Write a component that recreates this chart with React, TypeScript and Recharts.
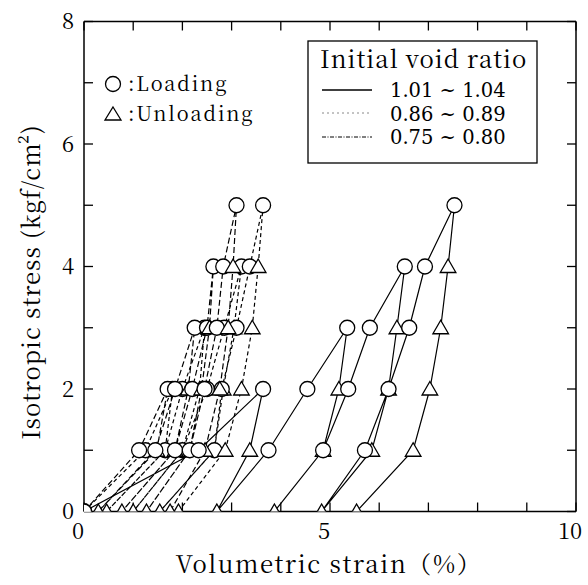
import React from 'react';
import { ComposedChart, Line, XAxis, YAxis } from 'recharts';

// Stress sequence (kgf/cm2) followed by every specimen: cyclic loading to 2, 3, 4, 5
const stressPath = [0, 1, 2, 1, 0, 1, 2, 3, 2, 1, 0, 1, 2, 3, 4, 3, 2, 1, 0, 1, 2, 3, 4, 5, 4, 3, 2, 1, 0];

// Volumetric strain (%) for each specimen
const strainSolid = [0, 2.33, 3.64, 3.37, 2.70, 3.75, 4.54, 5.35, 5.18, 4.86, 3.87, 4.86, 5.37, 5.81, 6.52, 6.36, 6.19, 5.85, 4.83, 5.71, 6.19, 6.61, 6.93, 7.53, 7.40, 7.25, 7.03, 6.69, 5.54];
const strainDotted = [0, 1.25, 1.80, 1.65, 0.46, 1.65, 2.00, 2.45, 2.35, 2.00, 1.00, 2.00, 2.50, 2.85, 3.20, 3.05, 2.83, 2.65, 1.54, 2.65, 2.80, 3.10, 3.37, 3.64, 3.54, 3.42, 3.20, 2.87, 1.92];
const strainDashDot = [0, 1.12, 1.70, 1.48, 0.29, 1.45, 1.85, 2.25, 2.12, 1.85, 0.77, 1.85, 2.20, 2.50, 2.63, 2.55, 2.39, 2.15, 1.27, 2.15, 2.45, 2.70, 2.83, 3.10, 3.03, 2.93, 2.76, 2.46, 1.75];

const xTicks = [0, 1, 2, 3, 4, 5, 6, 7, 8, 9, 10];
const xTickLabels = ['0', '', '', '', '', '5', '', '', '', '', '10'];
const yTicks = [0, 1, 2, 3, 4, 5, 6, 7, 8];
const yTickLabels = ['0', '', '2', '', '4', '', '6', '', '8'];

const legendRatios = ['1.01 ~ 1.04', '0.86 ~ 0.89', '0.75 ~ 0.80'];

const FONT = 'Noto Serif CJK JP, DejaVu Serif, serif';
const FONT2 = 'DejaVu Serif, serif';

type Pt = { x: number; y: number; m: 'load' | 'unload' };

function build(strain: number[]): Pt[] {
  return strain.map((x, i) => ({
    x,
    y: stressPath[i],
    m: i === 0 || stressPath[i] > stressPath[i - 1] ? 'load' : 'unload',
  }));
}

const dataSolid = build(strainSolid);
const dataDotted = build(strainDotted);
const dataDashDot = build(strainDashDot);

const Marker = (props: any) => {
  const { cx, cy, payload, index } = props;
  if (cx == null || cy == null) return <g key={index} />;
  if (payload.m === 'load') {
    return <circle key={index} cx={cx} cy={cy} r={7.5} fill="#fff" stroke="#000" strokeWidth={1.3} />;
  }
  return (
    <path
      key={index}
      d={`M${cx},${cy - 7.5} L${cx + 7.8},${cy + 6} L${cx - 7.8},${cy + 6} Z`}
      fill="#fff"
      stroke="#000"
      strokeWidth={1.3}
    />
  );
};

const tickStyleX = { fill: '#000', fontSize: 22, fontFamily: FONT, dx: -6 };
const tickStyleY = { fill: '#000', fontSize: 22, fontFamily: FONT };
const axisLineStyle = { stroke: '#000', strokeWidth: 1.5 };
const tickLineStyle = { stroke: '#000', strokeWidth: 1.3 };

export default function App() {
  return (
    <div style={{ position: 'fixed', left: 0, top: 0, width: 588, height: 585, background: '#fff' }}>
      <div style={{ position: 'absolute', left: 0, top: 0 }}>
        <ComposedChart
          width={588}
          height={585}
          margin={{ top: 20.5, right: 11, bottom: 72.5, left: 83 }}
        >
          <XAxis
            xAxisId="b"
            type="number"
            dataKey="x"
            domain={[0, 10]}
            ticks={xTicks}
            interval={0}
            allowDataOverflow
            height={1}
            tickSize={-9}
            tickMargin={21}
            tickFormatter={(v: number) => xTickLabels[xTicks.indexOf(v)] ?? ''}
            tick={tickStyleX}
            axisLine={axisLineStyle}
            tickLine={tickLineStyle}
          />
          <XAxis
            xAxisId="t"
            orientation="top"
            type="number"
            dataKey="x"
            domain={[0, 10]}
            ticks={xTicks}
            interval={0}
            allowDataOverflow
            height={1}
            tickSize={-9}
            tickFormatter={() => ''}
            axisLine={axisLineStyle}
            tickLine={tickLineStyle}
          />
          <YAxis
            yAxisId="l"
            type="number"
            dataKey="y"
            domain={[0, 8]}
            ticks={yTicks}
            interval={0}
            allowDataOverflow
            width={1}
            tickSize={-9}
            tickMargin={19}
            tickFormatter={(v: number) => yTickLabels[yTicks.indexOf(v)] ?? ''}
            tick={tickStyleY}
            axisLine={axisLineStyle}
            tickLine={tickLineStyle}
          />
          <YAxis
            yAxisId="r"
            orientation="right"
            type="number"
            dataKey="y"
            domain={[0, 8]}
            ticks={yTicks}
            interval={0}
            allowDataOverflow
            width={1}
            tickSize={-9}
            tickFormatter={() => ''}
            axisLine={axisLineStyle}
            tickLine={tickLineStyle}
          />

          <Line xAxisId="t" yAxisId="r" data={dataSolid} dataKey="y" stroke="none" dot={false} isAnimationActive={false} legendType="none" />

          <Line xAxisId="b" yAxisId="l" data={dataDotted} dataKey="y" type="linear" stroke="#000" strokeWidth={1.2} strokeDasharray="4 3" dot={false} isAnimationActive={false} />
          <Line xAxisId="b" yAxisId="l" data={dataDashDot} dataKey="y" type="linear" stroke="#000" strokeWidth={1.2} strokeDasharray="6 3" dot={false} isAnimationActive={false} />
          <Line xAxisId="b" yAxisId="l" data={dataSolid} dataKey="y" type="linear" stroke="#000" strokeWidth={1.2} dot={false} isAnimationActive={false} />

          <Line xAxisId="b" yAxisId="l" data={dataDotted} dataKey="y" stroke="none" dot={Marker} isAnimationActive={false} />
          <Line xAxisId="b" yAxisId="l" data={dataDashDot} dataKey="y" stroke="none" dot={Marker} isAnimationActive={false} />
          <Line xAxisId="b" yAxisId="l" data={dataSolid} dataKey="y" stroke="none" dot={Marker} isAnimationActive={false} />
        </ComposedChart>
      </div>

      <svg
        width={588}
        height={585}
        style={{ position: 'absolute', left: 0, top: 0, pointerEvents: 'none' }}
        fontFamily={FONT}
      >
        <text x={329} y={573} fontSize={24} letterSpacing={1.6} textAnchor="middle" fill="#000" fontFamily={FONT}>
          Volumetric strain（%）
        </text>
        <text
          x={0}
          y={0}
          fontSize={24}
          letterSpacing={1}
          textAnchor="middle"
          fill="#000"
          fontFamily={FONT}
          transform="translate(40,282) rotate(-90)"
        >
          Isotropic stress (kgf/cm²)
        </text>

        <circle cx={113} cy={84} r={7.5} fill="#fff" stroke="#000" strokeWidth={1.3} />
        <text x={128} y={91} fontSize={20} letterSpacing={1.8} fill="#000" fontFamily={FONT}>:Loading</text>
        <path d="M113,107 L121,120 L105,120 Z" fill="#fff" stroke="#000" strokeWidth={1.3} />
        <text x={128} y={121} fontSize={20} letterSpacing={1.8} fill="#000" fontFamily={FONT}>:Unloading</text>

        <rect x={308} y={41} width={229} height={122} fill="#fff" stroke="#000" strokeWidth={1.3} />
        <text x={320} y={68} fontSize={24} letterSpacing={1} fill="#000" fontFamily={FONT}>Initial void ratio</text>
        <line x1={322} x2={372} y1={90} y2={90} stroke="#000" strokeWidth={1.3} />
        <line x1={322} x2={372} y1={113} y2={113} stroke="#888" strokeWidth={1} strokeDasharray="2 3" />
        <line x1={322} x2={372} y1={137} y2={137} stroke="#000" strokeWidth={1} strokeDasharray="4 1.5 1 1.5" />
        {legendRatios.map((t, i) => (
          <text key={t} x={390} y={97 + i * 23.5} fontSize={19.5} letterSpacing={0} fill="#000" fontFamily={FONT2}>
            {t}
          </text>
        ))}
      </svg>
    </div>
  );
}
